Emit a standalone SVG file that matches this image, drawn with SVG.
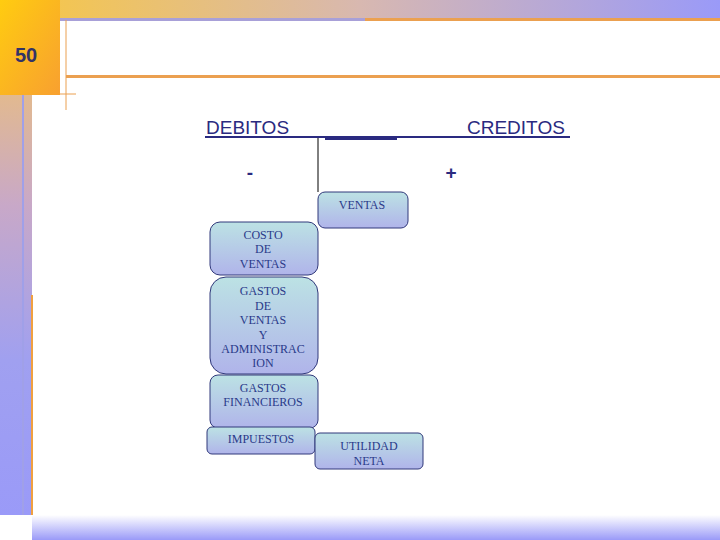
<svg xmlns="http://www.w3.org/2000/svg" width="720" height="540" viewBox="0 0 720 540">
<defs>
<linearGradient id="top" x1="0" y1="0" x2="1" y2="0"><stop offset="0" stop-color="#f8c840"/><stop offset="0.5" stop-color="#d8b8b0"/><stop offset="1" stop-color="#9a9af8"/></linearGradient>
<linearGradient id="left" x1="0" y1="0" x2="0" y2="1"><stop offset="0" stop-color="#f8c860"/><stop offset="0.4" stop-color="#c8a8c8"/><stop offset="0.7" stop-color="#a0a0f0"/><stop offset="1" stop-color="#9a9af8"/></linearGradient>
<linearGradient id="sq" x1="0" y1="0" x2="1" y2="1"><stop offset="0" stop-color="#ffcc10"/><stop offset="1" stop-color="#f8a030"/></linearGradient>
<linearGradient id="bot" x1="0" y1="0" x2="0" y2="1"><stop offset="0" stop-color="#ffffff"/><stop offset="1" stop-color="#9a9af8"/></linearGradient>
<linearGradient id="node" x1="0" y1="0" x2="0" y2="1"><stop offset="0" stop-color="#bce2e4"/><stop offset="1" stop-color="#b0b4ea"/></linearGradient>
</defs>
<style>
.n{fill:url(#node);stroke:#30387a;stroke-width:1}
.t{font-family:"Liberation Serif",serif;font-size:12px;fill:#2a3a8a;text-anchor:middle}
.h{font-family:"Liberation Sans",sans-serif;font-size:19px;fill:#2a2a80}
</style>
<rect width="720" height="540" fill="#fff"/>
<rect x="0" y="0" width="720" height="19" fill="url(#top)"/>
<rect x="0" y="0" width="32" height="515" fill="url(#left)"/>
<rect x="0" y="0" width="60" height="95" fill="url(#sq)"/>
<rect x="22" y="95" width="2" height="420" fill="#a0a0e8"/>
<rect x="31" y="295" width="2" height="220" fill="#f0a040"/>
<rect x="32" y="515" width="688" height="25" fill="url(#bot)"/>
<rect x="60" y="18" width="305" height="3" fill="#a8a0d8"/>
<rect x="365" y="18" width="355" height="3" fill="#eba050"/>
<rect x="66" y="75" width="654" height="3" fill="#eba050"/>
<line x1="66" y1="20" x2="66" y2="110" stroke="#eba050" stroke-width="1"/>
<line x1="60" y1="94" x2="76" y2="94" stroke="#eba050" stroke-width="1"/>
<text x="26" y="62" font-family="Liberation Sans,sans-serif" font-size="20" font-weight="bold" fill="#333366" text-anchor="middle">50</text>
<g id="connectors">
<line x1="205" y1="137" x2="570" y2="137" stroke="#2a2a80" stroke-width="2"/>
<rect x="325" y="137" width="72" height="3" fill="#2a2a80"/>
<line x1="318" y1="138" x2="318" y2="192" stroke="#000" stroke-width="1"/>
</g>
<g id="labels">
<text class="h" x="206" y="134">DEBITOS</text>
<text class="h" x="467" y="134">CREDITOS</text>
<text class="h" x="250" y="179" text-anchor="middle" font-size="24" font-weight="bold">-</text>
<text class="h" x="451" y="179" text-anchor="middle" font-size="24" font-weight="bold">+</text>
</g>
<g id="ventas"><rect class="n" x="318" y="192" width="90" height="36" rx="7"/><text class="t" x="362" y="209">VENTAS</text></g>
<g id="costo"><rect class="n" x="210" y="222" width="108" height="53" rx="10"/><text class="t" x="263" y="239">COSTO</text><text class="t" x="263" y="253">DE</text><text class="t" x="263" y="268">VENTAS</text></g>
<g id="gastosva"><rect class="n" x="210" y="277" width="108" height="97" rx="16"/><text class="t" x="263" y="295">GASTOS</text><text class="t" x="263" y="310">DE</text><text class="t" x="263" y="324">VENTAS</text><text class="t" x="263" y="339">Y</text><text class="t" x="263" y="353">ADMINISTRAC</text><text class="t" x="263" y="367">ION</text></g>
<g id="gastosfin"><rect class="n" x="210" y="375" width="108" height="53" rx="8"/><text class="t" x="263" y="392">GASTOS</text><text class="t" x="263" y="406">FINANCIEROS</text></g>
<g id="impuestos"><rect class="n" x="207" y="427" width="108" height="27" rx="5"/><text class="t" x="261" y="443">IMPUESTOS</text></g>
<g id="utilidad"><rect class="n" x="315" y="433" width="108" height="36" rx="5"/><text class="t" x="369" y="450">UTILIDAD</text><text class="t" x="369" y="465">NETA</text></g>
</svg>
